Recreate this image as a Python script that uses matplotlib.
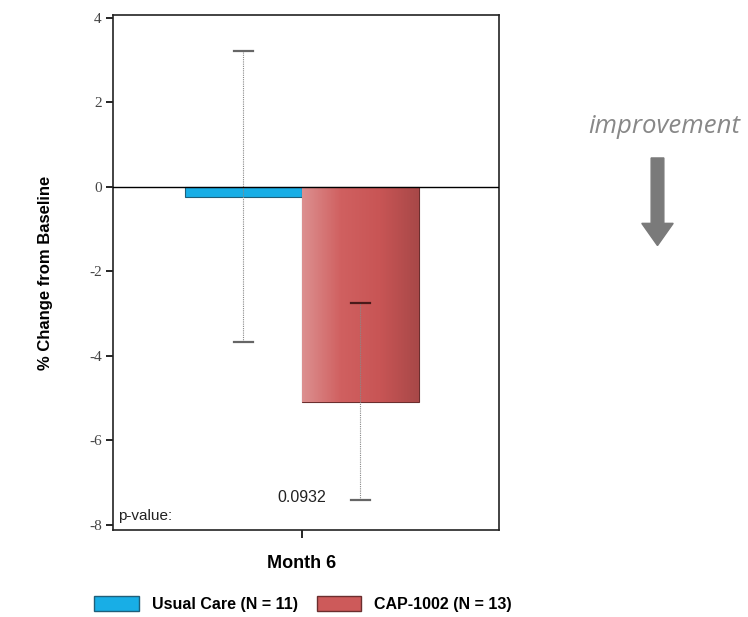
import matplotlib

matplotlib.use("Agg")
import matplotlib.pyplot as plt
import numpy as np
from matplotlib.colors import LinearSegmentedColormap
from matplotlib.patches import FancyArrow, Patch

groups = ["Usual Care (N = 11)", "CAP-1002 (N = 13)"]
category = "Month 6"
means = [-0.23, -5.08]
errors = [3.45, 2.34]
p_value = "0.0932"
y_ticks = [4, 2, 0, -2, -4, -6, -8]

blue = "#18aee6"
red = "#cd5a5a"

fig = plt.figure(figsize=(7.48, 6.17), dpi=100)
ax = fig.add_axes([0.151, 0.141, 0.516, 0.835])

offsets = [-0.303, 0.303]
width = 0.606
bars = ax.bar(offsets, means, width=width, color=[blue, red],
              edgecolor=["#1f5f7a", "#6b2e2e"], linewidth=0.8, zorder=2)

# horizontal shading on the red bar, light on the left, dark on the right
grad = LinearSegmentedColormap.from_list("redgrad", ["#dc9090", "#d06060", "#c85555", "#a84848"])
rb = bars[1]
x0, x1 = rb.get_x(), rb.get_x() + rb.get_width()
img = ax.imshow(np.linspace(0, 1, 256).reshape(1, -1), cmap=grad, aspect="auto",
                extent=[x0, x1, means[1], 0], zorder=2.5)
img.set_clip_path(rb)

# error bars: dotted stems with solid caps
for x, m, e in zip(offsets, means, errors):
    ax.plot([x, x], [m - e, m + e], color="#888888", linestyle=(0, (1, 1)),
            linewidth=0.8, zorder=3)
    top_cap = "#4a1a1a" if m < -1 else "#666666"
    ax.plot([x - 0.05, x + 0.05], [m + e, m + e], color=top_cap, linewidth=1.6, zorder=3)
    ax.plot([x - 0.05, x + 0.05], [m - e, m - e], color="#666666", linewidth=1.6, zorder=3)

ax.axhline(0, color="black", linewidth=1.0, zorder=4)

ax.set_xlim(-0.979, 1.021)
ax.set_ylim(-8.12, 4.07)
ax.set_yticks(y_ticks)
ax.set_yticklabels([str(t) for t in y_ticks], family="Liberation Serif",
                   fontsize=11, color="#444444")
ax.set_xticks([0])
ax.set_xticklabels([category], fontsize=13, fontweight="bold",
                   family="Liberation Sans")
ax.tick_params(axis="x", length=6, width=1.2, pad=12)
ax.tick_params(axis="y", length=5, width=1.2, pad=3)
for s in ax.spines.values():
    s.set_linewidth(1.2)
    s.set_color("#222222")

ax.set_ylabel("% Change from Baseline", fontsize=12, fontweight="bold",
              family="Liberation Sans", labelpad=26)

ax.text(0.013, 0.02, "p-value:", transform=ax.transAxes, fontsize=11,
        family="Liberation Sans", color="#222222")
ax.text(0.0, -7.45, p_value, ha="center", fontsize=11.5,
        family="Liberation Sans", color="#222222")

handles = [Patch(facecolor=blue, edgecolor="#1f5f7a"),
           Patch(facecolor=red, edgecolor="#6b2e2e")]
fig.legend(handles, groups, loc="center", bbox_to_anchor=(0.405, 0.021), ncol=2,
           frameon=False, handlelength=2.8, handleheight=1.0, columnspacing=1.2,
           handletextpad=0.8,
           prop={"family": "Liberation Sans", "weight": "bold", "size": 11.5})

fig.text(0.888, 0.795, "improvement", ha="center", va="center", fontsize=18.5,
         style="italic", family="Open Sans", color="#888888")
fig.patches.append(FancyArrow(0.879, 0.744, 0, -0.142, width=0.017,
                              head_width=0.042, head_length=0.036,
                              length_includes_head=True, color="#7a7a7a",
                              transform=fig.transFigure, figure=fig))

fig.savefig("out.png", dpi=100)
